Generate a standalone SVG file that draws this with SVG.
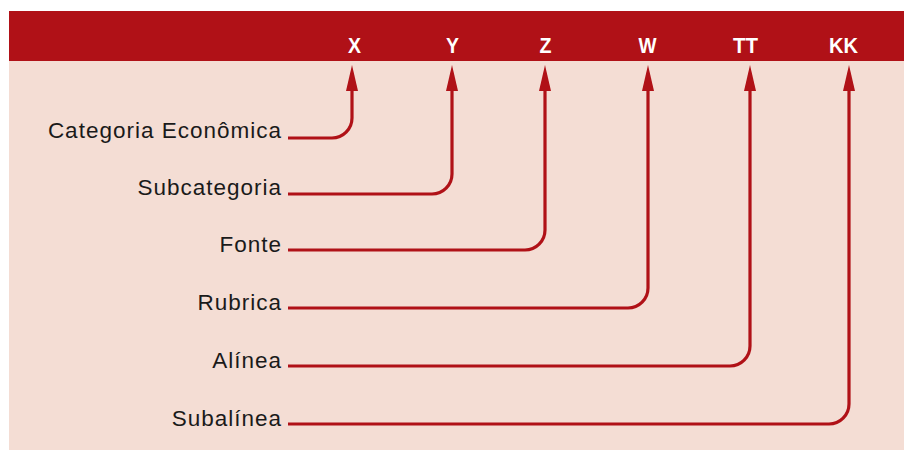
<svg xmlns="http://www.w3.org/2000/svg" width="904" height="454" viewBox="0 0 904 454">
  <style>
    .label { font-family: "Liberation Sans", Arial, sans-serif; font-size: 22.5px; letter-spacing: 1px; fill: #1a1a1a; text-anchor: end; }
    .code { font-family: "Liberation Sans Narrow", "Liberation Sans", Arial, sans-serif; font-weight: bold; font-size: 22px; fill: #ffffff; }
    .wire { fill: none; stroke: #B01117; stroke-width: 3.2; }
  </style>
  <defs>
    <marker id="head" viewBox="0 0 26 12" refX="0" refY="6" markerWidth="26" markerHeight="12" markerUnits="userSpaceOnUse" orient="auto">
      <path d="M0 0 L26 6 L0 12 Z" fill="#B01117"/>
    </marker>
  </defs>

  <!-- panel -->
  <rect x="9" y="61" width="895" height="389" fill="#F4DDD4"/>
  <rect x="9" y="11" width="895" height="50" fill="#B01117"/>

  <!-- code letters in the header (condensed) -->
  <g id="codes">
    <text class="code" x="348" y="53" textLength="13" lengthAdjust="spacingAndGlyphs">X</text>
    <text class="code" x="446" y="53" textLength="13" lengthAdjust="spacingAndGlyphs">Y</text>
    <text class="code" x="539.5" y="53" textLength="12" lengthAdjust="spacingAndGlyphs">Z</text>
    <text class="code" x="638.5" y="53" textLength="18" lengthAdjust="spacingAndGlyphs">W</text>
    <text class="code" x="733" y="53" textLength="25" lengthAdjust="spacingAndGlyphs">TT</text>
    <text class="code" x="829" y="53" textLength="29" lengthAdjust="spacingAndGlyphs">KK</text>
  </g>

  <!-- labels -->
  <g id="n-categoria"><text class="label" x="282" y="138">Categoria Econômica</text></g>
  <g id="n-subcategoria"><text class="label" x="282" y="195">Subcategoria</text></g>
  <g id="n-fonte"><text class="label" x="282" y="252">Fonte</text></g>
  <g id="n-rubrica"><text class="label" x="282" y="310">Rubrica</text></g>
  <g id="n-alinea"><text class="label" x="282" y="368">Alínea</text></g>
  <g id="n-subalinea"><text class="label" x="282" y="426">Subalínea</text></g>

  <!-- connectors: label line, rounded corner, arrow up to the code -->
  <g id="connectors">
    <path class="wire" marker-end="url(#head)" d="M288 138 H332 A20 20 0 0 0 352 118 V91"/>
    <path class="wire" marker-end="url(#head)" d="M288 194 H432 A20 20 0 0 0 452 174 V91"/>
    <path class="wire" marker-end="url(#head)" d="M288 250 H525 A20 20 0 0 0 545 230 V91"/>
    <path class="wire" marker-end="url(#head)" d="M288 308 H628 A20 20 0 0 0 648 288 V91"/>
    <path class="wire" marker-end="url(#head)" d="M288 366 H730 A20 20 0 0 0 750 346 V91"/>
    <path class="wire" marker-end="url(#head)" d="M288 424 H829 A20 20 0 0 0 849 404 V91"/>
  </g>
</svg>
